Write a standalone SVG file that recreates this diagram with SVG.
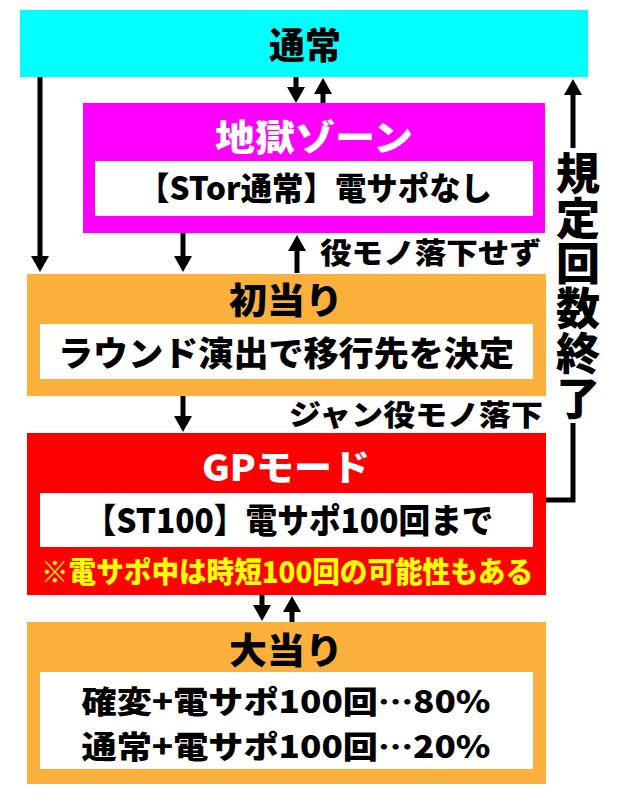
<svg xmlns="http://www.w3.org/2000/svg" width="640" height="796" viewBox="0 0 640 796">
<style>
.t{font-family:"Noto Sans CJK JP","Noto Sans",sans-serif;font-weight:900;text-anchor:middle}
.k{fill:#000}
.w{fill:#fff}
.y{fill:#ffff00}
.c{stroke:#000;stroke-width:5;fill:none}
.v{writing-mode:vertical-rl;text-anchor:start}
</style>
<defs>
<marker id="ah" markerUnits="userSpaceOnUse" markerWidth="16" markerHeight="18" refX="4" refY="9" orient="auto">
<path d="M0,0 L16,9 L0,18 z" fill="#000"/>
</marker>
</defs>
<rect width="640" height="796" fill="#fff"/>
<g id="connectors">
<line class="c" x1="40" y1="77" x2="40" y2="260" marker-end="url(#ah)"/>
<line class="c" x1="296" y1="77" x2="296" y2="91" marker-end="url(#ah)"/>
<line class="c" x1="323" y1="103" x2="323" y2="90" marker-end="url(#ah)"/>
<line class="c" x1="183" y1="233" x2="183" y2="260" marker-end="url(#ah)"/>
<line class="c" x1="297" y1="273" x2="297" y2="247" marker-end="url(#ah)"/>
<line class="c" x1="183" y1="396" x2="183" y2="420" marker-end="url(#ah)"/>
<line class="c" x1="262" y1="595" x2="262" y2="609" marker-end="url(#ah)"/>
<line class="c" x1="292" y1="622" x2="292" y2="608" marker-end="url(#ah)"/>
<path class="c" d="M546,500 H573 V423 M573,148 V91" marker-end="url(#ah)"/>
<text class="t k" x="320" y="264" font-size="29" style="text-anchor:start" textLength="221" lengthAdjust="spacingAndGlyphs">役モノ落下せず</text>
<text class="t k" x="289" y="426" font-size="29" style="text-anchor:start" textLength="254" lengthAdjust="spacingAndGlyphs">ジャン役モノ落下</text>
<text class="t k v" x="578" y="151" font-size="44" letter-spacing="1">規定回数終了</text>
</g>
<g id="normal">
<rect x="20" y="10" width="568" height="67" fill="#00ffff"/>
<text class="t k" x="305" y="59" font-size="36">通常</text>
</g>
<g id="hell-zone">
<rect x="83" y="103" width="462" height="130" fill="#ff00ff"/>
<text class="t w" x="314" y="151" font-size="36" textLength="198" lengthAdjust="spacingAndGlyphs">地獄ゾーン</text>
<rect x="95" y="161" width="438" height="55" fill="#fff"/>
<text class="t k" x="315" y="200" font-size="32" textLength="354" lengthAdjust="spacingAndGlyphs">【STor通常】電サポなし</text>
</g>
<g id="first-hit">
<rect x="27" y="274" width="519" height="122" fill="#fbb03b"/>
<text class="t k" x="286" y="314" font-size="36" textLength="114" lengthAdjust="spacingAndGlyphs">初当り</text>
<rect x="40" y="324" width="493" height="55" fill="#fff"/>
<text class="t k" x="286" y="366" font-size="34" textLength="456" lengthAdjust="spacingAndGlyphs">ラウンド演出で移行先を決定</text>
</g>
<g id="gp-mode">
<rect x="27" y="433" width="519" height="162" fill="#ff0000"/>
<text class="t w" x="286" y="481" font-size="36" textLength="168" lengthAdjust="spacingAndGlyphs">GPモード</text>
<rect x="40" y="493" width="493" height="54" fill="#fff"/>
<text class="t k" x="289" y="533" font-size="34" textLength="409" lengthAdjust="spacingAndGlyphs">【ST100】電サポ100回まで</text>
<text class="t y" x="287" y="583" font-size="29" textLength="492" lengthAdjust="spacingAndGlyphs">※電サポ中は時短100回の可能性もある</text>
</g>
<g id="big-hit">
<rect x="27" y="622" width="519" height="162" fill="#fbb03b"/>
<text class="t k" x="286" y="664" font-size="36" textLength="114" lengthAdjust="spacingAndGlyphs">大当り</text>
<rect x="40" y="672" width="493" height="97" fill="#fff"/>
<text class="t k" x="286" y="713" font-size="31" textLength="409" lengthAdjust="spacingAndGlyphs">確変+電サポ100回…80%</text>
<text class="t k" x="286" y="758" font-size="31" textLength="409" lengthAdjust="spacingAndGlyphs">通常+電サポ100回…20%</text>
</g>
</svg>
